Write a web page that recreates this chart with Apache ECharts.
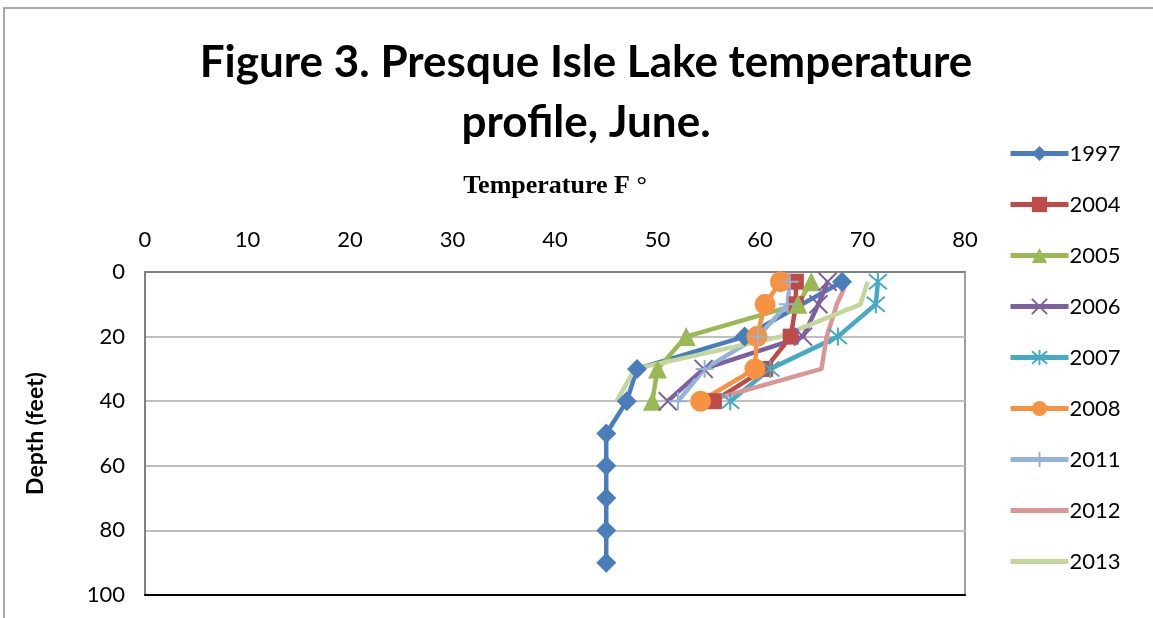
<!DOCTYPE html>
<html>
<head>
<meta charset="utf-8">
<script src="https://cdn.jsdelivr.net/npm/echarts@6/dist/echarts.min.js"></script>
<style>
    html, body { margin: 0; padding: 0; background: #fff; }
    #myChart { width: 1153px; height: 618px; }
</style>
</head>
<body>
<div id="myChart"></div>
<script>
    // depth (feet) and temperature (F)
    var years = ['1997', '2004', '2005', '2006', '2007', '2008', '2011', '2012', '2013'];
    var depths1997 = [3, 20, 30, 40, 50, 60, 70, 80, 90];
    var temps1997 = [68, 58.5, 48, 47, 45, 45, 45, 45, 45];
    var depths = [3, 10, 20, 30, 40];
    var temps2004 = [63.5, 63.5, 63, 60.5, 55.5];
    var temps2005 = [65, 63.7, 52.8, 50, 49.5];
    var temps2006 = [66.6, 65.7, 64.2, 54.5, 51];
    var temps2007 = [71.5, 71.3, 67.6, 61, 57.1];
    var temps2008 = [62, 60.5, 59.7, 59.5, 54.2];
    var temps2011 = [62.9, 62.7, 59.8, 54.6, 52];
    var temps2012 = [68.5, 67.5, 66.5, 66, 54.8];
    var temps2013 = [70.5, 69.8, 62, 47.8, 46];
    var xTicks = [0, 10, 20, 30, 40, 50, 60, 70, 80];
    var yTicks = [0, 20, 40, 60, 80, 100];

    var colors = ['#4A7EBB', '#BE4B48', '#98B954', '#7D60A0', '#46AAC5', '#F69240', '#95B3D7', '#D99694', '#C3D69B'];
    var symbols = [
        'diamond',
        'rect',
        'triangle',
        'path://M0,0L10,10M10,0L0,10',
        'path://M0,0L10,10M10,0L0,10M5,-1L5,11',
        'circle',
        'path://M0,5L10,5M5,0L5,10',
        'none',
        'none'
    ];
    var sizes = [20, 16, 19, 18, 18, 21, 18, 0, 0];
    var strokeOnly = [false, false, false, true, true, false, true, false, false];
    // plain thick bar for the legend of series without markers
    var barIcon = 'path://M0,0L58,0L58,5L0,5Z';

    function pairs(t, d) {
        return t.map(function (v, i) { return [v, d[i]]; });
    }
    var allData = [
        pairs(temps1997, depths1997),
        pairs(temps2004, depths),
        pairs(temps2005, depths),
        pairs(temps2006, depths),
        pairs(temps2007, depths),
        pairs(temps2008, depths),
        pairs(temps2011, depths),
        pairs(temps2012, depths),
        pairs(temps2013, depths)
    ];

    var series = years.map(function (y, i) {
        return {
            name: y,
            type: 'line',
            data: allData[i],
            symbol: symbols[i],
            symbolSize: sizes[i],
            showSymbol: symbols[i] !== 'none',
            lineStyle: { color: colors[i], width: 4.5 },
            itemStyle: strokeOnly[i]
                ? { color: 'rgba(0,0,0,0)', borderColor: colors[i], borderWidth: 2 }
                : { color: colors[i], borderWidth: 0 },
            emphasis: { disabled: true },
            animation: false
        };
    });

    var legendData = years.map(function (y, i) {
        return symbols[i] === 'none' ? { name: y, icon: barIcon } : { name: y };
    });

    var myChart = echarts.init(document.getElementById('myChart'));
    myChart.setOption({
        color: colors,
        animation: false,
        title: {
            text: 'Figure 3. Presque Isle Lake temperature\nprofile, June.',
            left: 581,
            top: 28,
            textAlign: 'center',
            textStyle: {
                fontFamily: 'Lato',
                fontWeight: 'bold',
                fontSize: 44,
                lineHeight: 60,
                color: '#000'
            }
        },
        legend: {
            orient: 'vertical',
            left: 1003,
            top: 135,
            itemWidth: 58,
            itemHeight: 19,
            itemGap: 24,
            data: legendData,
            lineStyle: { width: 5 },
            textStyle: { fontFamily: 'Lato', fontSize: 22, color: '#000', lineHeight: 27, padding: [0, 0, 0, -4] }
        },
        grid: {
            left: 145,
            top: 272,
            width: 820,
            height: 323,
            show: true,
            borderColor: '#808080',
            borderWidth: 1.5
        },
        xAxis: [{
            type: 'value',
            position: 'top',
            min: xTicks[0],
            max: xTicks[xTicks.length - 1],
            interval: 10,
            name: 'Temperature F °',
            nameLocation: 'middle',
            nameGap: 73,
            nameTextStyle: { fontFamily: 'Liberation Serif', fontWeight: 'bold', fontSize: 26, color: '#000' },
            axisLine: { show: true, lineStyle: { color: '#808080', width: 2 } },
            axisTick: { show: false },
            splitLine: { show: false },
            axisLabel: { margin: 21, fontFamily: 'Lato', fontSize: 22, color: '#000' }
        }, {
            type: 'value',
            position: 'bottom',
            min: 0,
            max: 80,
            axisLine: { show: true, lineStyle: { color: '#000', width: 2 } },
            axisTick: { show: false },
            axisLabel: { show: false },
            splitLine: { show: false }
        }],
        yAxis: {
            type: 'value',
            inverse: true,
            min: yTicks[0],
            max: yTicks[yTicks.length - 1],
            interval: 20,
            name: 'Depth (feet)',
            nameLocation: 'middle',
            nameGap: 98,
            nameTextStyle: { fontFamily: 'Lato', fontWeight: 'bold', fontSize: 23, color: '#000' },
            axisLine: { show: true, lineStyle: { color: '#808080', width: 2 } },
            axisTick: { show: false },
            splitLine: { show: true, lineStyle: { color: '#BFBFBF', width: 2 } },
            axisLabel: { margin: 20, fontFamily: 'Lato', fontSize: 22, color: '#000' }
        },
        graphic: [{
            type: 'rect',
            shape: { x: 4, y: 8, width: 1200, height: 700 },
            style: { fill: 'none', stroke: '#8c8c8c', lineWidth: 1.5 },
            silent: true
        }],
        series: series
    });
</script>
</body>
</html>
